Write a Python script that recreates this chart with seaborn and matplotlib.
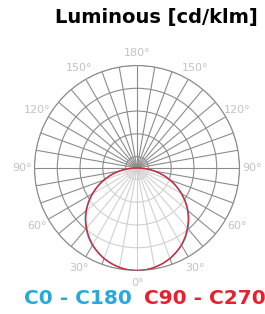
import numpy as np
import pandas as pd
import matplotlib
matplotlib.use('Agg')
import matplotlib.pyplot as plt
import seaborn as sns

# gamma angles (deg) and luminous intensity [cd/klm]
gamma = [0, 5, 10, 15, 20, 25, 30, 35, 40, 45, 50, 55, 60, 65, 70, 75, 80, 85, 90]
c0_c180 = [315, 314, 310, 304, 296, 286, 274, 260, 243, 225, 205, 182, 158, 133, 108, 82, 55, 28, 0]
c90_c270 = [315, 314, 310, 304, 296, 285, 273, 258, 241, 223, 203, 181, 158, 133, 108, 82, 55, 28, 0]

ring_values = [35, 105, 175, 245, 315]
r_max = 315

label_angles = [0, 30, 60, 90, 120, 150, 180, 210, 240, 270, 300, 330]
label_texts = ['0°', '30°', '60°', '90°', '120°', '150°', '180°',
               '150°', '120°', '90°', '60°', '30°']

blue = '#29a8e0'
red = '#e8202d'


def full_curve(values):
    # right half (C0 / C90) then mirrored left half (C180 / C270)
    th = list(gamma) + [360 - g for g in gamma[::-1]]
    r = list(values) + list(values[::-1])
    return pd.DataFrame({'theta': np.deg2rad(th), 'r': r})


sns.set_style('white')
fig = plt.figure(figsize=(2.65, 3.14), dpi=100)
ax = fig.add_axes([0.1302, 0.1385, 0.7736, 0.6529], projection='polar')
ax.set_theta_zero_location('S')
ax.set_theta_direction(1)
ax.set_ylim(0, r_max)
ax.set_rgrids(ring_values, labels=[''] * len(ring_values))
ax.set_xticks(np.deg2rad(np.arange(0, 360, 10)))
ax.set_xticklabels([])
ax.grid(True, color='#8c8c8c', linewidth=0.8)
ax.spines['polar'].set_color('#8c8c8c')
ax.spines['polar'].set_linewidth(0.8)
ax.set_axisbelow(True)

# angle labels centred on a circle just outside the plot
for a, t in zip(label_angles, label_texts):
    ax.text(np.deg2rad(a), r_max * 1.125, t, ha='center', va='center',
            fontsize=8, color='#c2c2c2', clip_on=False)

d_blue = full_curve(c0_c180)
d_red = full_curve(c90_c270)
patches = ax.fill(d_blue['theta'], d_blue['r'], color='white', alpha=0.6, zorder=2, lw=0)
sns.lineplot(data=d_blue, x='theta', y='r', sort=False, estimator=None,
             color=blue, linewidth=1.0, ax=ax, zorder=3)
sns.lineplot(data=d_red, x='theta', y='r', sort=False, estimator=None,
             color=red, linewidth=1.0, ax=ax, zorder=4)
ax.set_xlabel('')
ax.set_ylabel('')

# draw segments as arcs in polar space instead of straight chords
for ln in ax.lines:
    ln.get_path()._interpolation_steps = 20
for p in patches:
    p.get_path()._interpolation_steps = 20

fig.text(0.974, 0.943, 'Luminous [cd/klm]', ha='right', va='center',
         fontsize=14, fontweight='bold', color='black')
fig.text(0.295, 0.05, 'C0 - C180', ha='center', va='center',
         fontsize=14.5, fontweight='bold', color=blue)
fig.text(0.775, 0.05, 'C90 - C270', ha='center', va='center',
         fontsize=14.5, fontweight='bold', color=red)

fig.savefig('out.png', dpi=100)
